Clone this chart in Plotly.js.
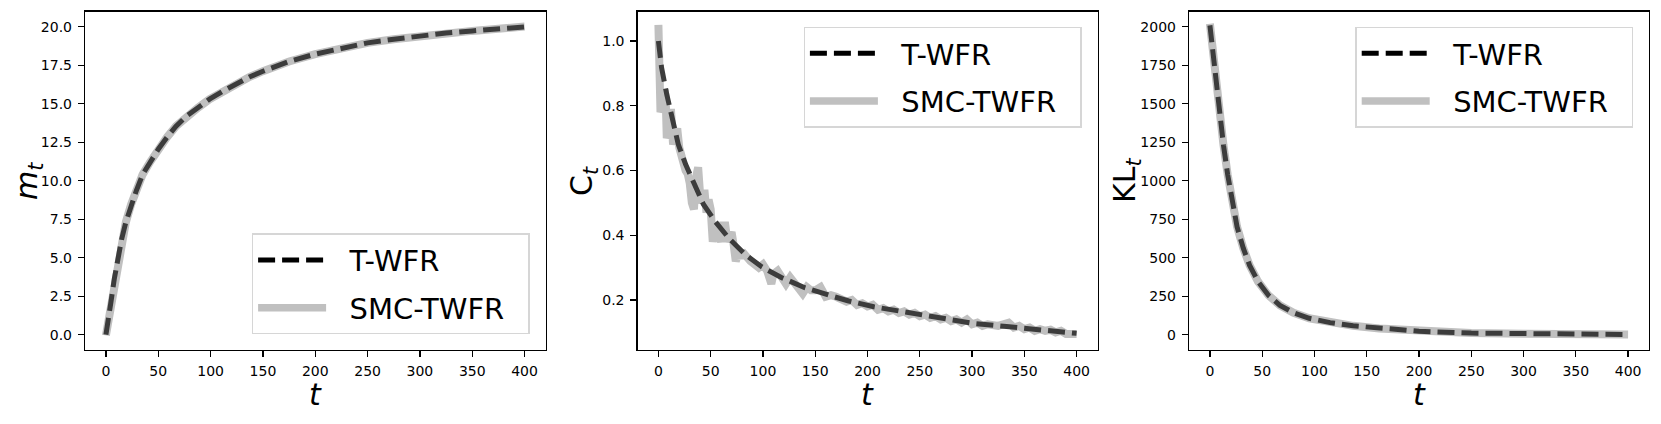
<!DOCTYPE html>
<html><head><meta charset="utf-8">
<script src="https://cdn.plot.ly/plotly-3.0.1.min.js"></script>
<style>html,body{margin:0;padding:0;background:#fff}</style>
</head><body>
<div id="chart" style="width:1661px;height:424px"></div>
<script>
// ---------- Panel 1: m_t ----------
const tM = [0,2,5,8,11,15,19,24,29,35,42,50,58,67,77,88,99,112,124,137,150,163,175,200,225,250,275,300,325,350,375,400];
const mTWFR = [0,0.72,2.21,3.62,4.9,6.2,7.3,8.45,9.35,10.4,11.2,12.05,12.8,13.55,14.2,14.75,15.3,15.83,16.3,16.74,17.12,17.45,17.75,18.23,18.62,18.96,19.2,19.42,19.6,19.74,19.88,20.0];
const mSMC  = [-0.05,0.72,2.21,3.62,4.9,6.2,7.3,8.45,9.35,10.4,11.2,12.05,12.8,13.55,14.2,14.75,15.3,15.83,16.3,16.74,17.12,17.45,17.75,18.23,18.62,18.96,19.2,19.42,19.6,19.74,19.88,20.02];

// ---------- Panel 2: C_t ----------
const tC = [0,3,8,13,19,26,34,43,54,67,83,99,118,140,166,182,206,238,270,301,333,365,384,400];
const cTWFR = [1.0,0.918,0.835,0.763,0.681,0.619,0.557,0.496,0.444,0.392,0.341,0.302,0.269,0.238,0.212,0.197,0.179,0.161,0.143,0.128,0.118,0.107,0.102,0.097];
const tCsmc = [0,1,2,4,6,7,8,10,12,14,16,18,20,22,24,26,28,30,32,34,36,38,40,42,44,46,48,50,52,54,56,58,60,62,64,66,68,70,72,74,76,78,80,84,88,92,96,100,104,108,110,114,118,122,126,130,134,138,142,146,150,155,160,165,170,175,180,185,190,195,200,205,210,215,220,225,230,235,240,245,250,255,260,265,270,275,280,285,290,295,300,305,310,315,320,325,330,335,340,345,350,355,360,365,370,375,380,385,390,395,400];
const cSMC = [1.05,0.95,0.78,0.80,0.85,0.82,0.70,0.72,0.79,0.68,0.70,0.73,0.67,0.64,0.62,0.60,0.59,0.56,0.50,0.48,0.58,0.61,0.52,0.50,0.54,0.47,0.51,0.48,0.38,0.42,0.44,0.40,0.38,0.43,0.43,0.38,0.40,0.41,0.37,0.32,0.34,0.33,0.35,0.33,0.32,0.31,0.30,0.31,0.29,0.25,0.28,0.29,0.27,0.25,0.27,0.25,0.24,0.22,0.24,0.23,0.23,0.24,0.21,0.215,0.21,0.205,0.195,0.20,0.185,0.19,0.18,0.185,0.17,0.175,0.165,0.17,0.16,0.165,0.155,0.16,0.15,0.155,0.145,0.15,0.14,0.145,0.135,0.14,0.13,0.14,0.125,0.13,0.12,0.125,0.12,0.12,0.125,0.13,0.115,0.12,0.11,0.115,0.105,0.11,0.105,0.108,0.10,0.105,0.095,0.098,0.095];

// ---------- Panel 3: KL_t ----------
const tK = [0,2.5,5,7.5,10,13,17,21,26,32,38,46,56,67,80,95,115,137,162,200,250,300,350,400];
const klTWFR = [2010,1850,1700,1545,1400,1230,1040,870,700,560,450,345,255,190,142,106,78,57,40,22,10,5,2,1];
const klSMC  = [2020,1850,1700,1545,1400,1230,1040,870,700,560,450,345,255,190,142,106,78,57,40,22,10,5,2,1];

const seriesNames = ['T-WFR','SMC-TWFR'];
const xTicks = [0,50,100,150,200,250,300,350,400];

const DASH_PLOT = '#3c3c3c', DASH_LEG = '#000000', GRAY = '#c0c0c0';
const DASH = '17px,7px';
const PAD = '\u00a0\u00a0';

function smcTrace(x, y, xa, ya) {
  return {x, y, xaxis: xa, yaxis: ya, type: 'scatter', mode: 'lines',
    line: {color: GRAY, width: 8}, showlegend: false, hoverinfo: 'skip'};
}
function twfrTrace(x, y, xa, ya) {
  return {x, y, xaxis: xa, yaxis: ya, type: 'scatter', mode: 'lines',
    line: {color: DASH_PLOT, width: 5, dash: DASH}, showlegend: false, hoverinfo: 'skip'};
}
function legendTraces(xa, ya, leg) {
  return [
    {x: [null], y: [null], xaxis: xa, yaxis: ya, type: 'scatter', mode: 'lines', name: PAD + seriesNames[0],
     legend: leg, legendgroup: leg + 'a', line: {color: DASH_LEG, width: 5, dash: DASH}},
    {x: [null], y: [null], xaxis: xa, yaxis: ya, type: 'scatter', mode: 'lines', name: PAD + seriesNames[1] + PAD,
     legend: leg, legendgroup: leg + 'b', line: {color: GRAY, width: 7.5}}
  ];
}

const data = [
  smcTrace(tM, mSMC, 'x', 'y'), twfrTrace(tM, mTWFR, 'x', 'y'),
  smcTrace(tCsmc, cSMC, 'x2', 'y2'), twfrTrace(tC, cTWFR, 'x2', 'y2'),
  smcTrace(tK, klSMC, 'x3', 'y3'), twfrTrace(tK, klTWFR, 'x3', 'y3'),
  ...legendTraces('x', 'y', 'legend'),
  ...legendTraces('x2', 'y2', 'legend2'),
  ...legendTraces('x3', 'y3', 'legend3')
];

const W = 1661, H = 424;
const FONT = 'DejaVu Sans';
const yDom = [1 - 350/H, 1 - 11.5/H];
function xax(dom, anchor) {
  return {domain: dom, anchor, range: [-20, 420], tickvals: xTicks, ticktext: xTicks.map(String),
    showline: true, mirror: true, linecolor: '#000', linewidth: 1.2, ticks: 'outside', ticklen: 6,
    tickwidth: 1.2, tickcolor: '#000', showgrid: false, zeroline: false,
    tickfont: {family: FONT, size: 14, color: '#000'}, ticklabelstandoff: 2};
}
function yax(range, dtick, fmt, anchor) {
  return {domain: yDom, anchor, range, dtick, tick0: 0, tickformat: fmt,
    showline: true, mirror: true, linecolor: '#000', linewidth: 1.2, ticks: 'outside', ticklen: 6,
    tickwidth: 1.2, tickcolor: '#000', showgrid: false, zeroline: false,
    tickfont: {family: FONT, size: 14, color: '#000'}, ticklabelstandoff: 3};
}
function leg(x, y) {
  return {x, y, xanchor: 'left', yanchor: 'top', xref: 'paper', yref: 'paper',
    bgcolor: 'rgba(255,255,255,0.8)', bordercolor: '#d6d6d6', borderwidth: 1.3,
    font: {family: FONT, size: 29, color: '#000'}, itemwidth: 68, tracegroupgap: 7,
    itemclick: false, itemdoubleclick: false};
}

const panels = [[85, 545.5], [637.5, 1097.5], [1189, 1649]];
const xDoms = panels.map(p => [p[0]/W, p[1]/W]);

const annotations = [];
panels.forEach(p => {
  annotations.push({xref: 'paper', yref: 'paper', x: (p[0]+p[1])/2/W, y: 1 - 394/H,
    xanchor: 'center', yanchor: 'middle', showarrow: false, text: '<i>t</i>',
    font: {family: FONT, size: 30, color: '#000'}});
});
const yTitles = [['<i>m</i><sub><i>t</i></sub>', 29], ['C<sub><i>t</i></sub>', 584], ['KL<sub><i>t</i></sub>', 1127]];
yTitles.forEach(([txt, xp]) => {
  annotations.push({xref: 'paper', yref: 'paper', x: xp/W, y: 1 - 181/H, textangle: -90,
    xanchor: 'center', yanchor: 'middle', showarrow: false, text: txt,
    font: {family: FONT, size: 30, color: '#000'}});
});

const layout = {
  width: W, height: H, margin: {l: 0, r: 0, t: 0, b: 0},
  paper_bgcolor: '#fff', plot_bgcolor: '#fff',
  font: {family: FONT, color: '#000'},
  xaxis: xax(xDoms[0], 'y'), yaxis: yax([-1, 21], 2.5, '.1f', 'x'),
  xaxis2: xax(xDoms[1], 'y2'), yaxis2: yax([0.0456, 1.0911], 0.2, '.1f', 'x2'),
  xaxis3: xax(xDoms[2], 'y3'), yaxis3: yax([-100, 2100], 250, 'd', 'x3'),
  legend: leg(251.8/W, 1 - 233.3/H),
  legend2: leg(803.6/W, 1 - 26.7/H),
  legend3: leg(1355.4/W, 1 - 26.7/H),
  annotations
};

Plotly.newPlot('chart', data, layout, {staticPlot: true, displayModeBar: false});
</script>
</body></html>
